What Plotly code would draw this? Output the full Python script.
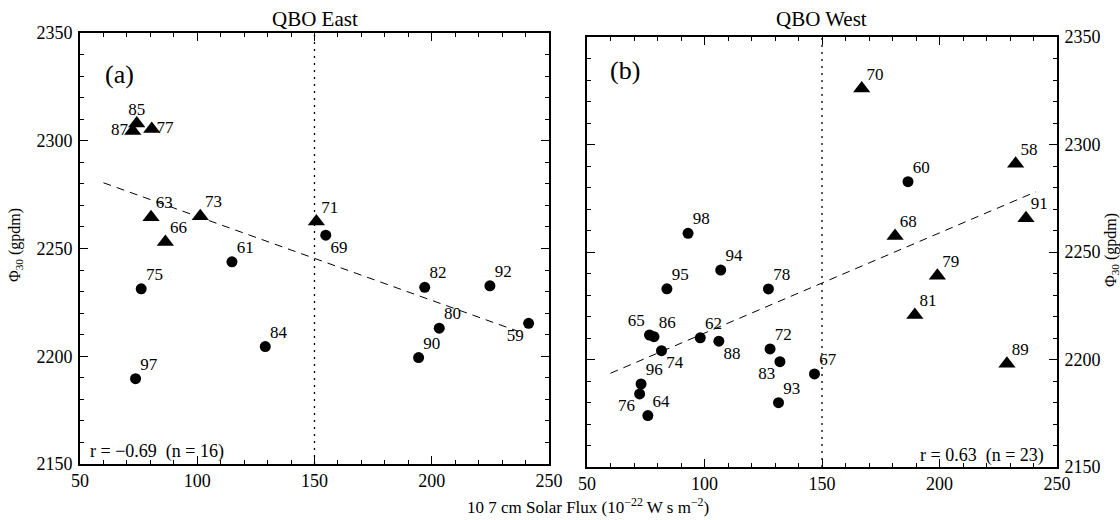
import plotly.graph_objects as go

# ---------------- data ----------------
# QBO East panel (a)
east_tri_years = ["85", "87", "77", "63", "73", "66", "71"]
east_tri_flux = [74.2, 72.5, 80.6, 80.3, 101.3, 86.4, 150.8]
east_tri_phi = [2308, 2304.5, 2305.5, 2264.5, 2265, 2253, 2262.5]

east_cir_years = ["69", "61", "75", "82", "92", "80", "59", "84", "90", "97"]
east_cir_flux = [154.8, 114.8, 76.1, 197.0, 224.8, 203.2, 241.3, 129.0, 194.4, 73.7]
east_cir_phi = [2256.2, 2243.8, 2231.3, 2232.0, 2232.7, 2213.0, 2215.3, 2204.5, 2199.4, 2189.6]

east_fit_flux = [60, 237]
east_fit_phi = [2280.5, 2211.5]

# QBO West panel (b)
west_tri_years = ["70", "58", "91", "68", "79", "81", "89"]
west_tri_flux = [166.9, 232.4, 236.8, 181.1, 199.1, 189.5, 228.7]
west_tri_phi = [2326, 2291, 2265.7, 2257.4, 2239, 2220.7, 2198]

west_cir_years = ["60", "98", "94", "95", "78", "65", "86", "62", "88", "74",
                  "72", "83", "67", "96", "76", "64", "93"]
west_cir_flux = [186.6, 93.0, 106.9, 84.0, 127.2, 76.6, 78.5, 98.2, 106.1, 81.7,
                 127.9, 132.1, 146.8, 73.0, 72.4, 75.9, 131.5]
west_cir_phi = [2282.7, 2258.7, 2241.6, 2232.9, 2232.8, 2211.4, 2210.6, 2210.1, 2208.5, 2204.1,
                2204.9, 2199.0, 2193.3, 2188.6, 2184.0, 2173.9, 2179.9]

west_fit_flux = [60, 241]
west_fit_phi = [2193.6, 2278]

split_flux = [150, 150]
phi_range = [2150, 2350]
flux_range = [50, 250]

# ---------------- styles ----------------
FONT = "Liberation Serif"
label_pos_east = {"85": "top center", "87": "middle left", "77": "middle right",
                  "69": "bottom right", "59": "bottom left"}
label_pos_west = {"65": "top left", "88": "bottom right", "74": "bottom right",
                  "83": "bottom left", "76": "bottom left"}


def positions(years, special):
    return [special.get(y, "top right") for y in years]


fig = go.Figure()

TXT = dict(family=FONT, size=17, color="black")


def add_points(xs, ys, years, symbol, size, special, xa, ya):
    fig.add_trace(go.Scatter(
        x=xs, y=ys, mode="markers",
        marker=dict(symbol=symbol, size=size, color="black"),
        xaxis=xa, yaxis=ya, showlegend=False, cliponaxis=False, hoverinfo="skip"))
    fig.add_trace(go.Scatter(
        x=xs, y=ys, mode="markers+text", text=years,
        textposition=positions(years, special), textfont=TXT,
        marker=dict(size=6, color="rgba(0,0,0,0)"),
        xaxis=xa, yaxis=ya, showlegend=False, cliponaxis=False))


# dotted lines at 150
for xa, ya in (("x", "y"), ("x2", "y2")):
    fig.add_trace(go.Scatter(x=split_flux, y=phi_range, mode="lines",
                             line=dict(color="black", width=1.3, dash="2px,5px"),
                             xaxis=xa, yaxis=ya, showlegend=False))
# fit lines
fig.add_trace(go.Scatter(x=east_fit_flux, y=east_fit_phi, mode="lines",
                         line=dict(color="black", width=1, dash="8px,6px"),
                         xaxis="x", yaxis="y", showlegend=False))
fig.add_trace(go.Scatter(x=west_fit_flux, y=west_fit_phi, mode="lines",
                         line=dict(color="black", width=1, dash="8px,6px"),
                         xaxis="x2", yaxis="y2", showlegend=False))

add_points(east_tri_flux, east_tri_phi, east_tri_years, "triangle-up", 15, label_pos_east, "x", "y")
add_points(east_cir_flux, east_cir_phi, east_cir_years, "circle", 11, label_pos_east, "x", "y")
add_points(west_tri_flux, west_tri_phi, west_tri_years, "triangle-up", 15, label_pos_west, "x2", "y2")
add_points(west_cir_flux, west_cir_phi, west_cir_years, "circle", 11, label_pos_west, "x2", "y2")

W, H = 1120, 520
ydom1 = [1 - 464 / H, 1 - 33 / H]
ydom2 = [1 - 467 / H, 1 - 37 / H]

common_x = dict(range=flux_range, dtick=50, tick0=50, ticks="inside", ticklen=8,
                tickwidth=1, tickcolor="black", showline=True, linecolor="black",
                linewidth=1.6, mirror="allticks", showgrid=False, zeroline=False,
                tickfont=dict(family=FONT, size=18, color="black"),
                minor=dict(dtick=10, ticks="inside", ticklen=4, tickcolor="black", tickwidth=1),
                automargin=False, fixedrange=True)
common_y = dict(range=phi_range, dtick=50, tick0=2150, ticks="inside", ticklen=8,
                tickwidth=1, tickcolor="black", showline=True, linecolor="black",
                linewidth=1.6, mirror="allticks", showgrid=False, zeroline=False,
                tickfont=dict(family=FONT, size=18, color="black"),
                minor=dict(dtick=10, ticks="inside", ticklen=4, tickcolor="black", tickwidth=1),
                automargin=False, fixedrange=True)

fig.update_layout(
    width=W, height=H,
    margin=dict(l=0, r=0, t=0, b=0),
    paper_bgcolor="white", plot_bgcolor="white",
    font=dict(family=FONT, color="black"),
    xaxis=dict(common_x, domain=[80 / W, 549 / W], anchor="y"),
    yaxis=dict(common_y, domain=ydom1, anchor="x", side="left", ticklabelstandoff=2),
    xaxis2=dict(common_x, domain=[587 / W, 1057 / W], anchor="y2"),
    yaxis2=dict(common_y, domain=ydom2, anchor="x2", side="right", ticklabelstandoff=2),
)


def A(text, x, y, size, xanchor="center", angle=0):
    return dict(text=text, x=x / W, y=1 - y / H, xref="paper", yref="paper",
                xanchor=xanchor, yanchor="middle", showarrow=False, textangle=angle,
                font=dict(family=FONT, size=size, color="black"))


ann = [
    A("QBO East", 315, 19, 21),
    A("QBO West", 821, 19, 21),
    A("(a)", 119, 75, 26),
    A("(b)", 625, 71, 26),
    A("r = −0.69  (n = 16)", 88, 451, 18, "left"),
    A("r = 0.63  (n = 23)", 1046, 455, 18, "right"),
    A("10 7 cm Solar Flux (10<sup>−22</sup> W s m<sup>−2</sup>)", 588, 506, 17),
    A("Φ<sub>30</sub> (gpdm)", 15, 245, 16, angle=-90),
    A("Φ<sub>30</sub> (gpdm)", 1111, 250, 16, angle=-90),
]
fig.update_layout(annotations=ann)

fig.write_html("out.html")
